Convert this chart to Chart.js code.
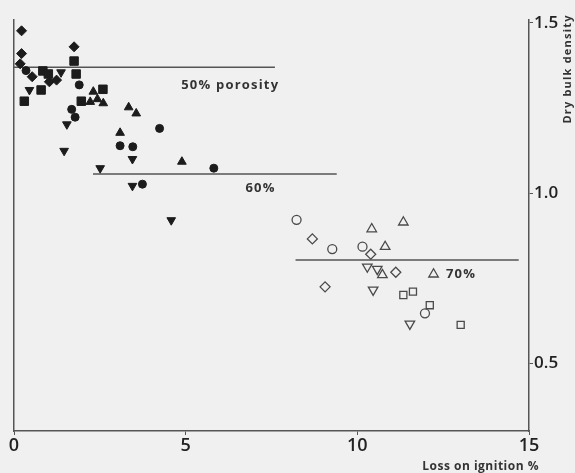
<!DOCTYPE html>
<html>
<head>
<meta charset="utf-8">
<script src="https://cdn.jsdelivr.net/npm/chart.js@4.4.1/dist/chart.umd.min.js"></script>
<style>
  body { margin: 0; background: #f0f0f0; }
  #wrap { width: 575px; height: 473px; }
</style>
</head>
<body>
<div id="wrap"><canvas id="myChart" width="575" height="473"></canvas></div>
<script>
// Puntos [pérdida por ignición %, densidad aparente seca]
const filledDiamonds = [[0.22, 1.477], [0.22, 1.41], [0.18, 1.38], [1.75, 1.43], [0.53, 1.342], [1.03, 1.327], [1.24, 1.332]];
const filledSquares = [[1.75, 1.388], [0.84, 1.359], [1.0, 1.35], [1.81, 1.35], [0.79, 1.303], [0.30, 1.27], [2.59, 1.305], [1.96, 1.27]];
const filledCircles = [[0.35, 1.36], [1.9, 1.318], [1.68, 1.246], [1.78, 1.223], [4.24, 1.19], [3.09, 1.139], [3.46, 1.136], [5.82, 1.073], [3.74, 1.026]];
const filledUp = [[2.31, 1.298], [2.22, 1.268], [2.43, 1.276], [2.6, 1.264], [3.34, 1.252], [3.56, 1.234], [3.09, 1.177], [4.89, 1.092]];
const filledDown = [[1.37, 1.355], [0.45, 1.303], [1.54, 1.202], [1.46, 1.124], [3.45, 1.10], [2.51, 1.073], [3.45, 1.021], [4.58, 0.92]];

const openCircles = [[8.23, 0.921], [9.27, 0.835], [10.15, 0.842], [11.97, 0.646]];
const openDiamonds = [[8.69, 0.865], [10.39, 0.82], [11.12, 0.767], [9.06, 0.724]];
const openUp = [[10.42, 0.894], [11.34, 0.914], [10.81, 0.842], [10.73, 0.759], [12.22, 0.761]];
const openDown = [[10.29, 0.783], [10.58, 0.776], [10.46, 0.715], [11.53, 0.615]];
const openSquares = [[11.34, 0.70], [11.62, 0.71], [12.11, 0.67], [13.01, 0.612]];

// Líneas de porosidad
const porosityLabels = ["50% porosity", "60%", "70%"];
const porosityDensity = [1.37, 1.056, 0.803];
const porosityFrom = [0, 2.3, 8.2];
const porosityTo = [7.6, 9.4, 14.7];
const porosityTextAt = [[4.87, 1.318], [6.74, 1.015], [12.58, 0.762]];

const xTicks = [0, 5, 10, 15];
const yTicks = [0.5, 1.0, 1.5];

const ink = '#1c1c1c';
const openInk = '#4a4a4a';
const font = "'Open Sans', 'DejaVu Sans', sans-serif";

function toPoints(arr) {
    return arr.map(p => ({ x: p[0], y: p[1] }));
}

function markerSet(arr, style, filled, radius, rotation) {
    return {
        data: toPoints(arr),
        pointStyle: style,
        rotation: rotation || 0,
        pointRadius: radius,
        pointBackgroundColor: filled ? ink : 'rgba(0,0,0,0)',
        pointBorderColor: filled ? ink : openInk,
        pointBorderWidth: filled ? 1 : 1.3,
        showLine: false,
    };
}

const datasets = [
    markerSet(filledDiamonds, 'rectRot', true, 5),
    markerSet(filledSquares, 'rect', true, 6),
    markerSet(filledCircles, 'circle', true, 4),
    markerSet(filledUp, 'triangle', true, 5),
    markerSet(filledDown, 'triangle', true, 5, 180),
    markerSet(openCircles, 'circle', false, 4.5),
    markerSet(openDiamonds, 'rectRot', false, 5),
    markerSet(openUp, 'triangle', false, 5.5),
    markerSet(openDown, 'triangle', false, 5.5, 180),
    markerSet(openSquares, 'rect', false, 5),
];

porosityDensity.forEach((d, i) => {
    datasets.push({
        data: [{ x: porosityFrom[i], y: d }, { x: porosityTo[i], y: d }],
        showLine: true,
        borderColor: '#555',
        borderWidth: 1.5,
        pointRadius: 0,
        yAxisID: 'y',
    });
});

// Fondo gris, etiquetas de porosidad y títulos de ejes
const extras = {
    id: 'extras',
    beforeDraw(chart) {
        const c = chart.ctx;
        c.save();
        c.fillStyle = '#f0f0f0';
        c.fillRect(0, 0, chart.width, chart.height);
        c.restore();
    },
    afterDraw(chart) {
        const c = chart.ctx;
        const xs = chart.scales.x, ys = chart.scales.y;
        const area = chart.chartArea;
        c.save();
        c.fillStyle = '#333';
        c.font = "bold 13px " + font;
        c.letterSpacing = '1.2px';
        c.textBaseline = 'middle';
        c.textAlign = 'left';
        porosityLabels.forEach((t, i) => {
            c.fillText(t, xs.getPixelForValue(porosityTextAt[i][0]), ys.getPixelForValue(porosityTextAt[i][1]));
        });
        // título del eje X, abajo a la derecha
        c.textAlign = 'right';
        c.font = "bold 12px " + font;
        c.letterSpacing = '0.5px';
        c.fillText('Loss on ignition %', area.right + 10, chart.height - 6);
        // título del eje Y, de abajo hacia arriba
        c.textAlign = 'left';
        c.translate(chart.width - 7, area.top + 104);
        c.rotate(-Math.PI / 2);
        c.font = "bold 11px " + font;
        c.letterSpacing = '1.2px';
        c.fillText('Dry bulk density', 0, 0);
        c.restore();
    }
};

const config = {
    type: 'scatter',
    data: { datasets },
    options: {
        responsive: false,
        animation: false,
        layout: { padding: { top: 19.6, left: 0, right: 0, bottom: 0 } },
        plugins: { legend: { display: false }, tooltip: { enabled: false } },
        scales: {
            x: {
                type: 'linear',
                min: 0,
                max: 15,
                afterBuildTicks: s => { s.ticks = xTicks.map(v => ({ value: v })); },
                afterFit: s => { s.height = 42; },
                grid: { display: true, drawOnChartArea: false, tickLength: 4, color: '#555' },
                border: { display: true, color: '#555', width: 1.5 },
                ticks: { color: '#222', font: { family: font, size: 18, weight: '600' }, padding: 0, maxRotation: 0 },
            },
            y: {
                type: 'linear',
                position: 'right',
                min: 0.3,
                max: 1.51,
                afterBuildTicks: s => { s.ticks = yTicks.map(v => ({ value: v })); },
                afterFit: s => { s.width = 46; },
                grid: { display: true, drawOnChartArea: false, tickLength: 4, color: '#555' },
                border: { display: true, color: '#555', width: 1.5 },
                ticks: {
                    color: '#222',
                    font: { family: font, size: 17, weight: '600' },
                    padding: 1,
                    callback: v => v.toFixed(1),
                },
            },
            yLeft: {
                type: 'linear',
                position: 'left',
                min: 0.3,
                max: 1.51,
                afterFit: s => { s.width = 14; },
                grid: { display: false },
                border: { display: true, color: '#555', width: 1.5 },
                ticks: { display: false },
            },
        },
    },
    plugins: [extras],
};

const ctx = document.getElementById('myChart').getContext('2d');
const myChart = new Chart(ctx, config);
</script>
</body>
</html>
